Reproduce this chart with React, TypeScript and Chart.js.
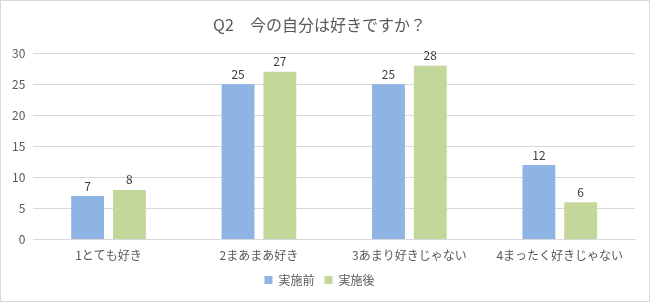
import React, { useEffect, useRef } from "react";
import { Chart, registerables } from "chart.js";

Chart.register(...registerables);

const categories = ["1とても好き", "2まあまあ好き", "3あまり好きじゃない", "4まったく好きじゃない"];
const seriesNames = ["実施前", "実施後"];
const before = [7, 25, 25, 12];
const after = [8, 27, 28, 6];
const titleText = "Q2　今の自分は好きですか？";

const FONT = "'Noto Sans CJK JP', 'Noto Sans', sans-serif";

const valueLabels = {
  id: "valueLabels",
  afterDatasetsDraw(chart: any) {
    const ctx = chart.ctx;
    ctx.save();
    ctx.font = `12px ${FONT}`;
    ctx.fillStyle = "#404040";
    ctx.textAlign = "center";
    ctx.textBaseline = "bottom";
    chart.data.datasets.forEach((ds: any, i: number) => {
      const meta = chart.getDatasetMeta(i);
      meta.data.forEach((bar: any, j: number) => {
        ctx.fillText(String(ds.data[j]), bar.x, bar.y - 4);
      });
    });
    ctx.restore();
  },
};

export default function App() {
  const ref = useRef<HTMLCanvasElement>(null);
  useEffect(() => {
    document.body.style.margin = "0";
    const chart = new Chart(ref.current!, {
      type: "bar",
      data: {
        labels: categories,
        datasets: [
          { label: seriesNames[0], data: before, backgroundColor: "#8DB4E2" },
          { label: seriesNames[1], data: after, backgroundColor: "#C4D79B" },
        ],
      },
      options: {
        responsive: false,
        animation: false,
        devicePixelRatio: 1,
        layout: { padding: { left: 3, right: 14, top: 8, bottom: 5 } },
        datasets: { bar: { categoryPercentage: 0.556, barPercentage: 0.786 } },
        plugins: {
          title: {
            display: true,
            text: titleText,
            color: "#595959",
            font: { family: FONT, size: 16, weight: "normal" },
            padding: { top: 6, bottom: 19 },
          },
          legend: {
            position: "bottom",
            labels: {
              color: "#595959",
              font: { family: FONT, size: 12 },
              boxWidth: 8,
              boxHeight: 8,
              padding: 10,
            },
          },
          tooltip: { enabled: false },
        },
        scales: {
          x: {
            grid: { display: false },
            border: { display: true, color: "#D9D9D9" },
            ticks: { color: "#595959", font: { family: FONT, size: 12 }, padding: 1 },
          },
          y: {
            min: 0,
            max: 30,
            ticks: { stepSize: 5, color: "#595959", font: { family: FONT, size: 12 }, padding: 8 },
            grid: { color: "#D9D9D9", drawTicks: false },
            border: { display: false },
          },
        },
      },
      plugins: [valueLabels],
    });
    return () => chart.destroy();
  }, []);
  return (
    <div style={{ width: 650, height: 302, boxSizing: "border-box", border: "1px solid #D9D9D9", position: "relative" }}>
      <canvas ref={ref} width={648} height={300} style={{ display: "block" }} />
    </div>
  );
}
